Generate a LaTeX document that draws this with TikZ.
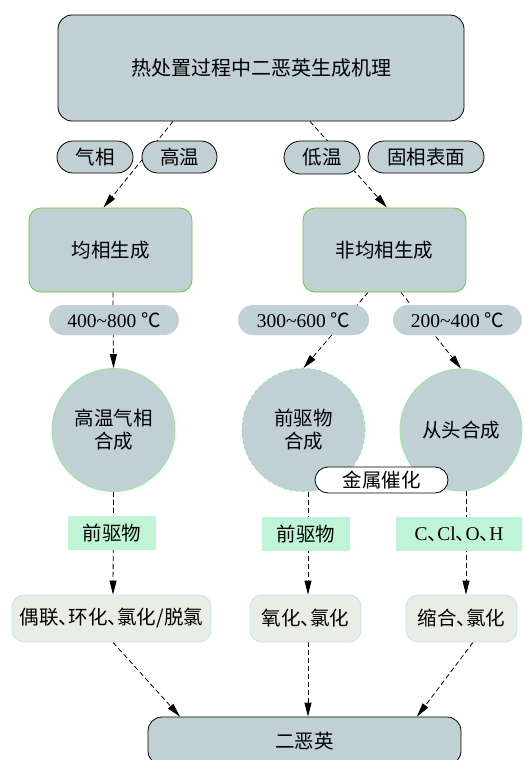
\documentclass[tikz,border=0pt]{standalone}
\usepackage{fontspec}
\setmainfont{Liberation Serif}
\newfontfamily\cjk{Noto Sans CJK SC}
\usetikzlibrary{shapes.misc,arrows.meta,calc}
\definecolor{gb}{HTML}{C0D0D4}
\definecolor{grn}{HTML}{66CC33}
\definecolor{lgrn}{HTML}{90EE90}
\definecolor{mint}{HTML}{BFF5D6}
\definecolor{lfill}{HTML}{EAECE6}
\definecolor{lblue}{HTML}{C4E2F6}
\newcommand\dunhao{{\cjk 、}\hspace{-0.5em}}
\pgfdeclarelayer{bg}
\pgfsetlayers{bg,main}
\tikzset{
  txt/.style={font=\fontsize{19.5}{23}\selectfont, text=black},
  bigbox/.style={txt, draw=black, line width=0.8pt, fill=gb, rounded corners=14pt, inner sep=0pt},
  pill/.style={txt, draw=black, line width=0.8pt, fill=gb, rounded rectangle, inner sep=0pt},
  tpill/.style={txt, fill=gb, rounded rectangle, inner sep=0pt},
  genbox/.style={txt, draw=grn, line width=0.8pt, fill=gb, rounded corners=12pt, inner sep=0pt},
  circ/.style={txt, circle, draw=lgrn, line width=0.8pt, fill=gb, inner sep=0pt, align=center},
  mintbox/.style={txt, fill=mint, inner sep=0pt},
  lbox/.style={txt, draw=lblue, line width=0.8pt, fill=lfill, rounded corners=12pt, inner sep=0pt},
  wpill/.style={txt, draw=black, line width=0.8pt, fill=white, rounded rectangle, inner sep=0pt},
  edge/.style={line width=0.8pt, dash pattern=on 5pt off 3pt, -{Triangle[length=14pt,width=7pt]}},
}
\begin{document}
\begin{tikzpicture}[x=1pt,y=-1pt]
\useasboundingbox (0,0) rectangle (524,760);
% nodes
\node[bigbox, minimum width=406pt, minimum height=106pt, font=\fontsize{20}{24}\selectfont] (top) at (261,68) {\cjk 热处置过程中二恶英生成机理};
\node[pill, minimum width=76pt, minimum height=32pt] (qx) at (95,157) {\cjk 气相};
\node[pill, minimum width=75pt, minimum height=32pt] (gw) at (179.5,157) {\cjk 高温};
\node[pill, minimum width=76pt, minimum height=33pt] (dw) at (322,157.5) {\cjk 低温};
\node[pill, minimum width=116pt, minimum height=32pt] (gx) at (426,157) {\cjk 固相表面};
\node[genbox, minimum width=163pt, minimum height=84pt] (jun) at (110.5,250) {\cjk 均相生成};
\node[genbox, minimum width=163pt, minimum height=84pt] (fei) at (384.5,250) {\cjk 非均相生成};
\node[tpill, minimum width=130pt, minimum height=30pt] (t1) at (114,320) {400\textasciitilde800 {\cjk ℃}};
\node[tpill, minimum width=131pt, minimum height=30pt] (t2) at (303.5,320) {300\textasciitilde600 {\cjk ℃}};
\node[tpill, minimum width=129pt, minimum height=30pt] (t3) at (457.5,320) {200\textasciitilde400 {\cjk ℃}};
\node[circ, minimum size=123pt] (c1) at (113.5,430) {\cjk 高温气相\\\cjk 合成};
\node[circ, minimum size=123pt, dashed] (c2) at (303.5,430) {\cjk 前驱物\\\cjk 合成};
\node[circ, minimum size=122pt] (c3) at (461,430) {\cjk 从头合成};
\node[wpill, minimum width=133pt, minimum height=26pt] (jc) at (381.5,480) {\cjk 金属催化};
\node[mintbox, minimum width=88pt, minimum height=34pt] (m1) at (112,533) {\cjk 前驱物};
\node[mintbox, minimum width=88pt, minimum height=34pt] (m2) at (306,534) {\cjk 前驱物};
\node[mintbox, minimum width=126pt, minimum height=34pt] (m3) at (459,534) {C\dunhao Cl\dunhao O\dunhao H};
\node[lbox, minimum width=199pt, minimum height=47pt] (b1) at (111.5,618.5) {\cjk 偶联\dunhao 环化\dunhao 氯化/脱氯};
\node[lbox, minimum width=111pt, minimum height=47pt] (b2) at (305.5,618.5) {\cjk 氧化\dunhao 氯化};
\node[lbox, minimum width=111pt, minimum height=47pt] (b3) at (461.5,618.5) {\cjk 缩合\dunhao 氯化};
\node[bigbox, minimum width=313pt, minimum height=48pt] (dx) at (304.5,741) {\cjk 二恶英};
% edges
\begin{pgfonlayer}{bg}
\draw[edge] ($(top.south)+(-88,0)$) -- ($(jun.north)+(-7,0)$);
\draw[edge] ($(top.south)+(49,0)$) -- ($(fei.north)+(2.5,0)$);
\draw[edge] ($(jun.south)+(2.5,0)$) -- (c1.north);
\draw[edge] ($(fei.south)+(-16.5,0)$) -- (c2.north);
\draw[edge] ($(fei.south)+(16.5,0)$) -- (c3.north);
\draw[edge] (c1.south) -- ($(b1.north)+(1.5,0)$);
\draw[edge] ($(c2.south)+(4.5,0)$) -- ($(b2.north)+(2.5,0)$);
\draw[edge] ($(c3.south)+(5,0)$) -- ($(b3.north)+(4.5,0)$);
\draw[edge] ($(b1.south)+(1.5,0)$) -- ($(dx.north)+(-124.5,0)$);
\draw[edge] ($(b2.south)+(2.5,0)$) -- ($(dx.north)+(3.5,0)$);
\draw[edge] ($(b3.south)+(11.5,0)$) -- ($(dx.north)+(112.5,0)$);
\end{pgfonlayer}
\end{tikzpicture}
\end{document}
